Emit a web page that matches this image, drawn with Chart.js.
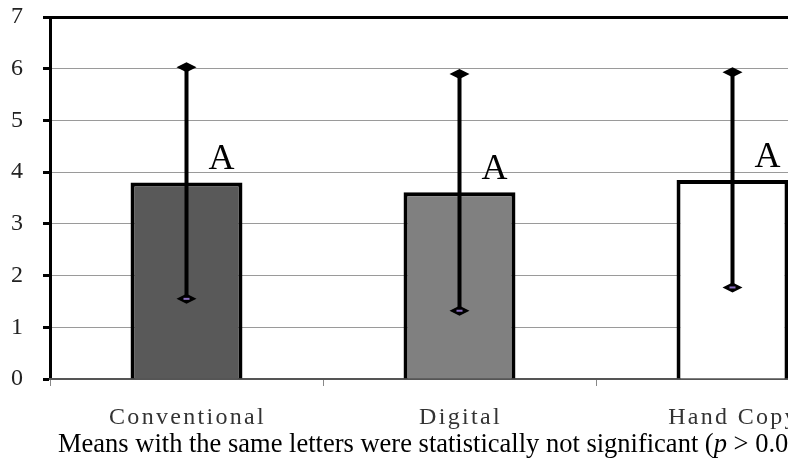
<!DOCTYPE html>
<html>
<head>
<meta charset="utf-8">
<script src="https://cdn.jsdelivr.net/npm/chart.js@4"></script>
<style>
  body { margin: 0; overflow: hidden; background: #fff; }
  #wrap { width: 880px; height: 459px; }
</style>
</head>
<body>
<div id="wrap"><canvas id="meanChart" width="880" height="459"></canvas></div>
<script>
var categories = ['Conventional', 'Digital', 'Hand Copy'];
var meanScores = [3.80, 3.61, 3.85];
var errLow = [1.55, 1.32, 1.77];
var errHigh = [6.03, 5.90, 5.93];
var groupLetters = ['A', 'A', 'A'];
var yTicks = [0, 1, 2, 3, 4, 5, 6, 7];
var footNote = 'Means with the same letters were statistically not significant (';

var serif = "'Liberation Serif', 'Times New Roman', serif";

// error bars, letters, category labels and footnote
var extras = {
     id: 'extras',
     afterDatasetsDraw: function(chart) {
          var ctx = chart.ctx;
          var y = chart.scales.y;
          var meta = chart.getDatasetMeta(0);
          ctx.save();
          meta.data.forEach(function(bar, i) {
               var x = bar.x;
               var yHi = y.getPixelForValue(errHigh[i]);
               var yLo = y.getPixelForValue(errLow[i]);
               ctx.strokeStyle = '#000';
               ctx.lineWidth = 4;
               ctx.beginPath();
               ctx.moveTo(x, yHi);
               ctx.lineTo(x, yLo);
               ctx.stroke();
               [yHi, yLo].forEach(function(py, k) {
                    ctx.fillStyle = '#000';
                    ctx.beginPath();
                    ctx.moveTo(x - 10, py);
                    ctx.lineTo(x, py - 5);
                    ctx.lineTo(x + 10, py);
                    ctx.lineTo(x, py + 5);
                    ctx.closePath();
                    ctx.fill();
                    if (k == 1) {
                         ctx.fillStyle = '#8a6fc0';
                         ctx.fillRect(x - 3, py - 1, 6, 2);
                    }
               });
               ctx.fillStyle = '#000';
               ctx.font = '36px ' + serif;
               ctx.textAlign = 'center';
               ctx.textBaseline = 'alphabetic';
               ctx.fillText(groupLetters[i], x + 35, bar.y - 13);
          });
          ctx.restore();
     },
     afterDraw: function(chart) {
          var ctx = chart.ctx;
          var xs = chart.scales.x;
          ctx.save();
          ctx.fillStyle = '#333';
          ctx.font = '24px ' + serif;
          ctx.textAlign = 'center';
          ctx.textBaseline = 'alphabetic';
          ctx.letterSpacing = '2.3px';
          categories.forEach(function(c, i) {
               ctx.fillText(c, xs.getPixelForValue(i) + 1, 424);
          });
          ctx.letterSpacing = '0px';
          ctx.fillStyle = '#000';
          ctx.textAlign = 'left';
          ctx.font = '26.5px ' + serif;
          var px = 58;
          ctx.fillText(footNote, px, 452);
          px += ctx.measureText(footNote).width;
          ctx.font = 'italic 26.5px ' + serif;
          ctx.fillText('p', px, 452);
          px += ctx.measureText('p').width;
          ctx.font = '26.5px ' + serif;
          ctx.fillText(' > 0.05)', px, 452);
          ctx.restore();
     }
};

new Chart(document.getElementById('meanChart'), {
     type: 'bar',
     data: {
          labels: categories,
          datasets: [
               {
                    data: meanScores,
                    backgroundColor: ['#595959', '#808080', '#ffffff'],
                    borderColor: '#000',
                    borderWidth: 4,
                    borderSkipped: 'bottom',
                    categoryPercentage: 1,
                    barPercentage: 0.41
               }
          ]
     },
     plugins: [extras],
     options: {
          responsive: false,
          animation: false,
          layout: { padding: { top: 0, right: 11, left: 0, bottom: 0 } },
          plugins: {
               legend: { display: false },
               tooltip: { enabled: false }
          },
          scales: {
               y: {
                    min: 0,
                    max: 7,
                    afterBuildTicks: function(scale) {
                         scale.ticks = yTicks.map(function(v) { return { value: v }; });
                    },
                    afterFit: function(scale) {
                         scale.width = 50;
                         scale.paddingTop = 17;
                    },
                    ticks: {
                         color: '#222',
                         font: { family: serif, size: 24 },
                         padding: 20
                    },
                    grid: {
                         color: function(c) { return c.tick && c.tick.value === 7 ? '#000' : '#9a9a9a'; },
                         lineWidth: function(c) { return c.tick && c.tick.value === 7 ? 3 : 1; },
                         tickColor: '#000',
                         tickWidth: 3,
                         tickLength: 7
                    },
                    border: { color: '#000', width: 3 }
               },
               x: {
                    afterFit: function(scale) { scale.height = 80; },
                    ticks: { display: false },
                    grid: {
                         offset: true,
                         drawOnChartArea: false,
                         color: '#888',
                         lineWidth: 1,
                         tickLength: 7
                    },
                    border: { color: '#555', width: 2 }
               }
          }
     }
});
</script>
</body>
</html>
